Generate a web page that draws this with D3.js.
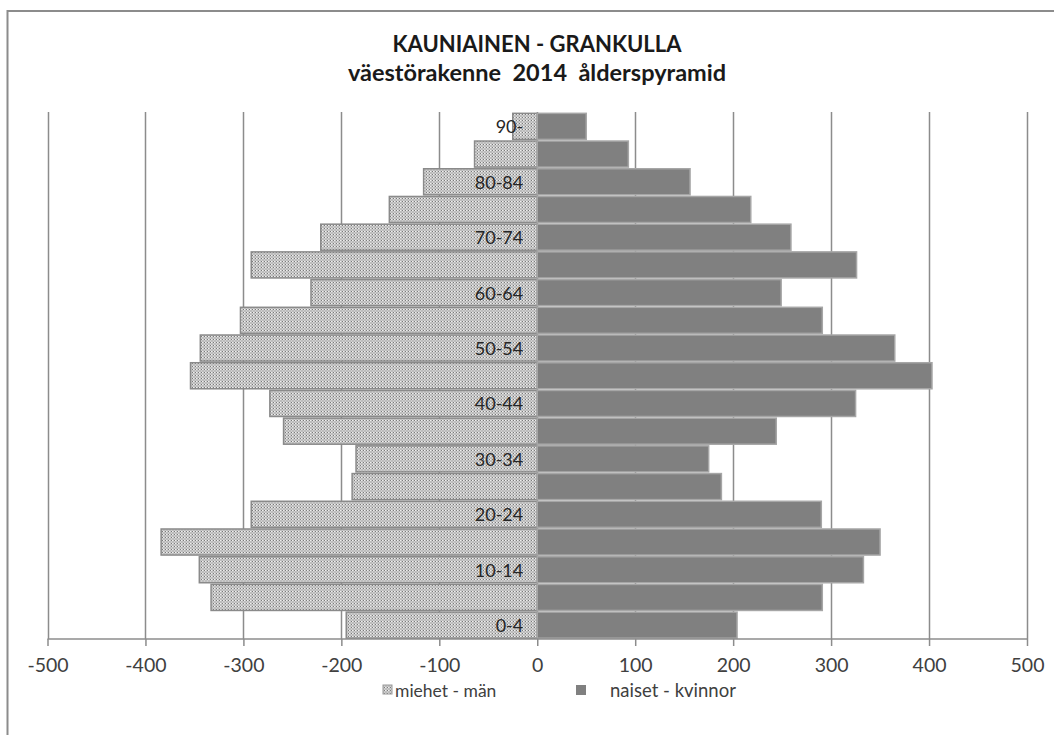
<!DOCTYPE html>
<html>
<head>
<meta charset="utf-8">
<script src="https://cdn.jsdelivr.net/npm/d3@7"></script>
<style>
  html, body { margin: 0; padding: 0; background: #fff; }
  svg { display: block; }
  text { font-family: Lato, "Open Sans", sans-serif; }
</style>
</head>
<body>
<svg id="chart" width="1054" height="735"></svg>
<script>
// ---- data ----
const ageGroups = ["0-4","5-9","10-14","15-19","20-24","25-29","30-34","35-39","40-44","45-49",
                   "50-54","55-59","60-64","65-69","70-74","75-79","80-84","85-89","90-"];
const menValues   = [-195,-333,-345,-384,-292,-189,-185,-259,-273,-354,-344,-303,-231,-292,-221,-151,-116,-64,-25];
const womenValues = [204,291,333,350,290,188,175,244,325,403,365,291,249,326,259,218,156,93,50];
const shownAgeLabels = ["0-4","10-14","20-24","30-34","40-44","50-54","60-64","70-74","80-84","90-"];
const xTickValues = [-500,-400,-300,-200,-100,0,100,200,300,400,500];
const titleLines = ["KAUNIAINEN - GRANKULLA", "väestörakenne  2014  ålderspyramid"];
const seriesNames = ["miehet - män", "naiset - kvinnor"];

const svg = d3.select("#chart");

// pattern for men
const defs = svg.append("defs");
const pat = defs.append("pattern").attr("id","dots").attr("patternUnits","userSpaceOnUse")
  .attr("width",3).attr("height",3);
pat.append("rect").attr("width",3).attr("height",3).attr("fill","#cdcdcd");
pat.append("rect").attr("x",0).attr("y",0).attr("width",1).attr("height",1).attr("fill","#7a7a7a");
pat.append("rect").attr("x",1.5).attr("y",1.5).attr("width",1).attr("height",1).attr("fill","#8e8e8e");
pat.append("rect").attr("x",1).attr("y",0).attr("width",1).attr("height",1).attr("fill","#efefef");

// outer frame
svg.append("rect").attr("x",7.5).attr("y",11).attr("width",1100).attr("height",800)
  .attr("fill","none").attr("stroke","#8c8c8c").attr("stroke-width",2);

const x = d3.scaleLinear().domain([-500,500]).range([47.5,1027]);
const y = d3.scaleBand().domain(ageGroups.slice().reverse()).range([112.5,639])
  .paddingInner(0.06).paddingOuter(0.03);

// grid lines
svg.append("g").selectAll("line").data(xTickValues).join("line")
  .attr("x1",d=>Math.round(x(d))+0.5).attr("x2",d=>Math.round(x(d))+0.5)
  .attr("y1",112).attr("y2",639)
  .attr("stroke","#8c8c8c").attr("stroke-width",1.5);

// bars
const rows = ageGroups.map((a,i)=>({age:a, men:menValues[i], women:womenValues[i]}));
svg.append("g").selectAll("rect").data(rows).join("rect")
  .attr("x",d=>x(d.men)).attr("width",d=>x(0)-x(d.men))
  .attr("y",d=>y(d.age)).attr("height",y.bandwidth())
  .attr("fill","url(#dots)").attr("stroke","#8a8a8a").attr("stroke-width",1.5);
svg.append("g").selectAll("rect").data(rows).join("rect")
  .attr("x",x(0)).attr("width",d=>x(d.women)-x(0))
  .attr("y",d=>y(d.age)).attr("height",y.bandwidth())
  .attr("fill","#808080").attr("stroke","#a6a6a6").attr("stroke-width",1.5);

// x axis
const xAxis = d3.axisBottom(x).tickValues(xTickValues).tickSize(7).tickPadding(12).tickFormat(d3.format("d"));
const ax = svg.append("g").attr("transform","translate(0,639)").call(xAxis);
ax.select(".domain").attr("stroke","#8c8c8c").attr("stroke-width",1.5).attr("d","M47.5,0H1027");
ax.selectAll(".tick line").attr("stroke","#8c8c8c").attr("stroke-width",1.5);
ax.selectAll(".tick text").attr("font-size",19.5).attr("fill","#404040")
  .attr("font-family","Lato, 'Open Sans', sans-serif")
  .text(d=> d<0 ? "-" + Math.abs(d) : String(d));

// age labels
svg.append("g").selectAll("text").data(shownAgeLabels).join("text")
  .attr("x",x(0)-14).attr("y",d=>y(d)+y.bandwidth()/2)
  .attr("text-anchor","end").attr("dominant-baseline","central")
  .attr("font-size",18).attr("fill","#262626").text(d=>d);

// title
const titleSizes = [22, 23.5];
svg.append("g").selectAll("text").data(titleLines).join("text")
  .attr("x",537).attr("y",(d,i)=>52+i*29)
  .attr("text-anchor","middle").attr("font-weight","bold").attr("font-size",(d,i)=>titleSizes[i])
  .attr("fill","#1a1a1a").style("white-space","pre").text(d=>d);

// legend
const leg = svg.append("g");
leg.append("rect").attr("x",383).attr("y",685).attr("width",9).attr("height",9)
  .attr("fill","url(#dots)").attr("stroke","#9a9a9a");
leg.append("text").attr("x",395).attr("y",690).attr("dominant-baseline","central")
  .attr("font-size",17.5).attr("fill","#404040").text(seriesNames[0]);
leg.append("rect").attr("x",576).attr("y",685).attr("width",10).attr("height",10)
  .attr("fill","#808080");
leg.append("text").attr("x",610).attr("y",690).attr("dominant-baseline","central")
  .attr("font-size",18.5).attr("fill","#404040").text(seriesNames[1]);
</script>
</body>
</html>
